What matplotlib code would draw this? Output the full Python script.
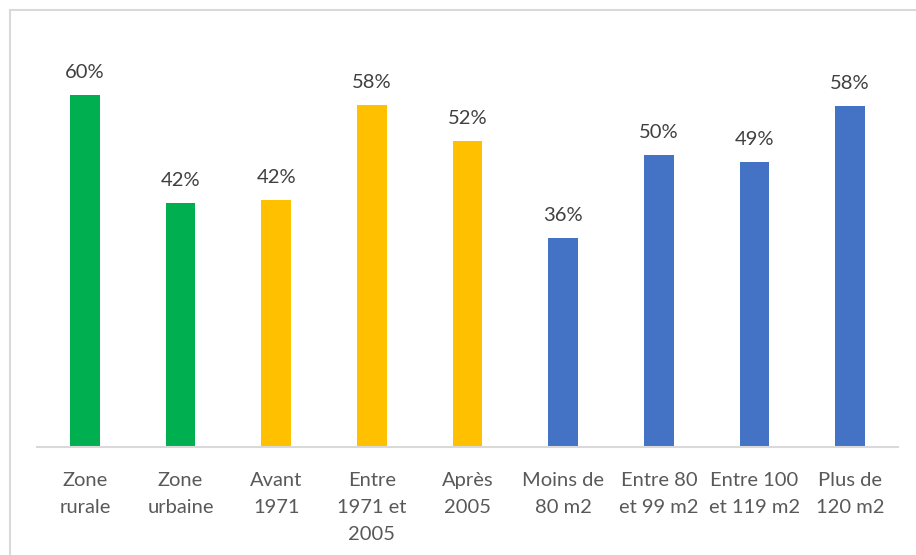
import matplotlib
matplotlib.use('Agg')
import matplotlib.pyplot as plt
from matplotlib.patches import Rectangle

plt.rcParams['font.family'] = ['Lato', 'DejaVu Sans']

categories = ["Zone\nrurale", "Zone\nurbaine", "Avant\n1971", "Entre\n1971 et\n2005",
              "Après\n2005", "Moins de\n80 m2", "Entre 80\net 99 m2", "Entre 100\net 119 m2",
              "Plus de\n120 m2"]
values = [60, 41.6, 42, 58.3, 52.1, 35.6, 49.7, 48.6, 58]
colors = ["#00B050", "#00B050", "#FFC000", "#FFC000", "#FFC000",
          "#4472C4", "#4472C4", "#4472C4", "#4472C4"]

W, H = 916, 555
fig = plt.figure(figsize=(W / 100, H / 100), dpi=100)

# chart border (only left/top visible in the crop)
fig.patches.append(Rectangle((10 / W, -0.5), 2, 1 - 10 / H + 0.5,
                             transform=fig.transFigure, fill=False,
                             edgecolor="#d9d9d9", linewidth=1.5))

ax = fig.add_axes([37 / W, 1 - 447 / H, 861 / W, (447 - 36) / H])
x = range(len(categories))
ax.bar(x, values, width=0.31, color=colors, zorder=2)

for xi, v in zip(x, values):
    ax.text(xi, v + 2.4, f"{v:.0f}%", ha="center", va="bottom",
            fontsize=14.5, color="#404040")

ax.set_xlim(-0.5, len(categories) - 0.5)
ax.set_ylim(0, 70)
ax.set_xticks(list(x))
ax.set_xticklabels(categories, fontsize=14.5, color="#595959", linespacing=1.72)
ax.tick_params(axis="x", length=0, pad=18)
ax.set_yticks([])
for side in ["top", "right", "left"]:
    ax.spines[side].set_visible(False)
ax.spines["bottom"].set_color("#d9d9d9")
ax.spines["bottom"].set_linewidth(1.5)

fig.savefig("out.png", dpi=100)
